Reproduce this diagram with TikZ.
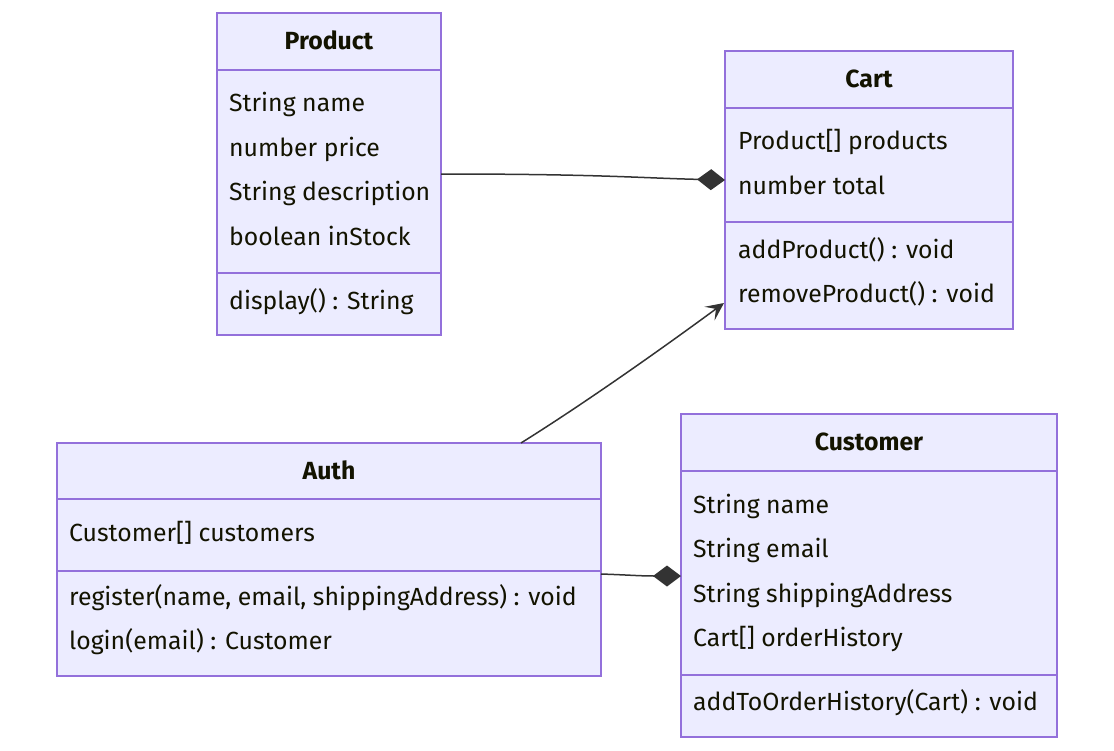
\documentclass[tikz,border=0pt]{standalone}
\usepackage{fontspec}
\setmainfont{Fira Sans}
\usetikzlibrary{arrows.meta}
\definecolor{boxfill}{HTML}{ECECFF}
\definecolor{boxline}{HTML}{9370DB}
\definecolor{edge}{HTML}{333333}
\definecolor{txt}{HTML}{131300}
\tikzset{
  classbox/.style={draw=boxline, fill=boxfill, line width=1.3pt},
  divider/.style={draw=boxline, line width=1.3pt},
  member/.style={anchor=mid west, inner sep=0pt, text=txt, font=\fontsize{24.8}{28}\selectfont, yshift=-6pt},
  title/.style={anchor=mid, inner sep=0pt, text=txt, font=\fontsize{24.8}{28}\selectfont\bfseries, yshift=-6pt},
  link/.style={draw=edge, line width=1.5pt},
}
\begin{document}
\begin{tikzpicture}[x=1pt,y=-1pt]
\useasboundingbox (0,0) rectangle (1114,750);
% Product
\draw[classbox] (217,13) rectangle (441,335);
\draw[divider] (217,70) -- (441,70);
\draw[divider] (217,273) -- (441,273);
\node[title] (ptitle) at (329,41) {Product};
\node[member] (p1) at (229,103) {String name};
\node[member] (p2) at (229,148) {number price};
\node[member] (p3) at (229,192) {String description};
\node[member] (p4) at (229,237) {boolean inStock};
\node[member] (p5) at (229,301) {display() : String};
\coordinate (prodR) at (441,174);
% Cart
\draw[classbox] (725,51) rectangle (1013,329);
\draw[divider] (725,108) -- (1013,108);
\draw[divider] (725,222) -- (1013,222);
\node[title] (ctitle) at (869,79) {Cart};
\node[member] (c1) at (738,141) {Product[] products};
\node[member] (c2) at (738,186) {number total};
\node[member] (c3) at (738,250) {addProduct() : void};
\node[member] (c4) at (738,294) {removeProduct() : void};
\coordinate (cartL1) at (725,180);
\coordinate (cartL2) at (724,303);
% Auth
\draw[classbox] (57,443) rectangle (601,676);
\draw[divider] (57,499) -- (601,499);
\draw[divider] (57,571) -- (601,571);
\node[title] (atitle) at (329,471) {Auth};
\node[member] (a1) at (69,533) {Customer[] customers};
\node[member] (a2) at (69,597) {register(name, email, shippingAddress) : void};
\node[member] (a3) at (69,641) {login(email) : Customer};
\coordinate (authT) at (521,443);
\coordinate (authR) at (601,574);
% Customer
\draw[classbox] (681,414) rectangle (1057,737);
\draw[divider] (681,471) -- (1057,471);
\draw[divider] (681,675) -- (1057,675);
\node[title] (cutitle) at (869,442) {Customer};
\node[member] (u1) at (693,505) {String name};
\node[member] (u2) at (693,549) {String email};
\node[member] (u3) at (693,594) {String shippingAddress};
\node[member] (u4) at (693,638) {Cart[] orderHistory};
\node[member] (u5) at (693,702) {addToOrderHistory(Cart) : void};
\coordinate (custL) at (681,576);
% connectors
\draw[link, -{Diamond[length=28,width=21,fill=edge]}] (prodR) .. controls (600,174) and (640,178) .. (cartL1);
\draw[link, -{Stealth[length=18,width=17,inset=8]}] (authT) .. controls (585,403) and (660,350) .. (cartL2);
\draw[link, -{Diamond[length=28,width=21,fill=edge]}] (authR) .. controls (630,575) and (640,576) .. (custL);
\end{tikzpicture}
\end{document}
